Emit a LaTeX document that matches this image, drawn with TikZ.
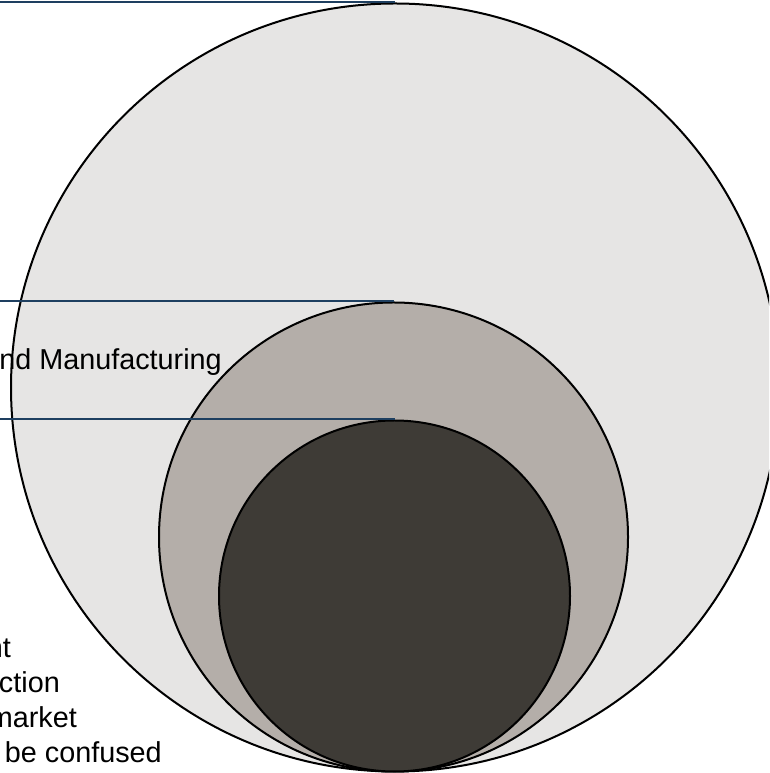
\documentclass[tikz,border=0pt]{standalone}
\usepackage{fontspec}
\setmainfont{Liberation Sans}
\begin{document}
\begin{tikzpicture}[x=1pt,y=1pt,
  ring/.style={circle,draw=black,line width=2pt,inner sep=0pt},
  leader/.style={draw=leadblue,line width=2pt},
  caption/.style={inner sep=0pt,font=\fontsize{28.8}{34}\selectfont,text=black}]
\definecolor{leadblue}{HTML}{1E3F60}
\definecolor{outerfill}{HTML}{E6E5E4}
\definecolor{middlefill}{HTML}{B4AEA9}
\definecolor{innerfill}{HTML}{3E3B36}
\useasboundingbox (0,0) rectangle (769,773);
\clip (0,0) rectangle (769,773);
\coordinate (origin) at (0,0);

% nested circles, all resting on the bottom edge
\node[ring,fill=outerfill,minimum size=768pt]  (outer)  at (395,385.5) {};
\node[ring,fill=middlefill,minimum size=469pt] (middle) at (393.5,236) {};
\node[ring,fill=innerfill,minimum size=351pt]  (inner)  at (394.5,177) {};

% leader lines running to the top of each circle
\draw[leader] (outer.north -| origin)  -- (outer.north);
\draw[leader] (middle.north -| origin) -- (middle.north);
\draw[leader] (inner.north -| origin)  -- (inner.north);

% labels
\node[caption,anchor=base east] (lab1) at (222,403) {nd Manufacturing};
\node[caption,anchor=base east] (lab2) at (11,115)  {nt};
\node[caption,anchor=base east] (lab3) at (60,80)   {ction};
\node[caption,anchor=base east] (lab4) at (77,45)   {market};
\node[caption,anchor=base east] (lab5) at (162,10)  {be confused};
\end{tikzpicture}
\end{document}
